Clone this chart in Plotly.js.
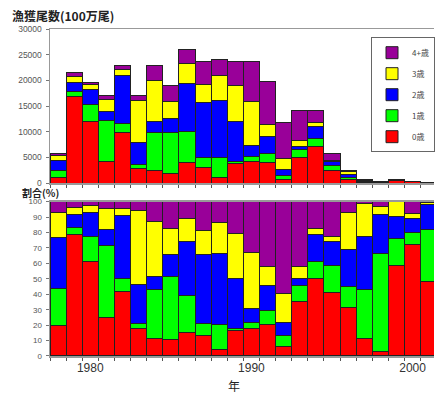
<!DOCTYPE html>
<html><head><meta charset="utf-8">
<script src="https://cdn.plot.ly/plotly-3.0.1.min.js"></script>
<style>html,body{margin:0;padding:0;background:#fff;}#chart{width:435px;height:397px;}</style>
</head><body><div id="chart"></div>
<script>
// years
const years = [1978,1979,1980,1981,1982,1983,1984,1985,1986,1987,1988,1989,1990,1991,1992,1993,1994,1995,1996,1997,1998,1999,2000,2001];
const ageNames = ['0歳','1歳','2歳','3歳','4+歳'];
const xTickLabels = [1980,1990,2000];

// catch in numbers (100万尾), by age
const catchAge0 = [1100,16950,11950,4150,9750,2900,2500,1850,3970,3120,1050,3750,4200,3970,720,4880,7150,2350,750,85,11,440,217,48];
const catchAge1 = [1350,950,3260,7950,1850,700,7400,8000,6100,1850,3850,450,1000,1810,750,1570,1510,980,330,225,220,130,23,33];
const catchAge2 = [1900,1720,3000,1900,9300,4300,2000,2700,9250,10650,11200,7750,2050,3250,1100,620,2440,910,590,250,90,105,26,16];
const catchAge3 = [920,1050,900,2300,1200,8200,8100,3300,4000,3550,4800,6950,8700,2420,2220,1120,600,160,570,155,18,73,11,1.3];
const catchAge4 = [470,800,480,800,850,1000,2950,3200,2780,4450,3200,4750,7700,8400,7030,5880,2380,1300,160,7,11,2,23,0.4];

// share (%), by age
const shareAge0 = [20,79,61,24.8,42.1,17.5,11.5,10.4,15.3,13.2,4.5,16.4,17.9,20.1,6,35.2,50.3,41.3,31.3,11.5,3.2,58.5,72.4,48.2];
const shareAge1 = [24,4.3,16.7,46.5,8.2,3.7,31.9,41,23.6,8,15.6,1.5,3.7,9.1,7,10.8,10.8,17.2,13.6,31.3,63.3,17.8,7.8,33.5];
const shareAge2 = [33,8.2,15.1,10.4,40.6,25.2,8.4,14.1,35.2,44.7,46.4,32.4,8.9,16.4,8.8,4.3,17.3,16,24.4,34.5,25.3,13.8,8.6,16.4];
const shareAge3 = [16,4.7,5,13.6,4.4,47.6,35.2,17.2,14.7,15.1,20.1,29.2,36.7,12.3,18.4,8,4.3,2.8,23.8,21.7,5,9.7,3.7,1.3];
const shareAge4 = [7,3.8,2.2,4.7,4.7,6,13,17.3,11.2,19,13.4,20.5,32.8,42.1,59.8,41.7,17.3,22.7,6.9,1,3.2,0.2,7.5,0.6];

const colors = ['#ff0000','#00ff00','#0000ff','#ffff00','#990099'];
const catchSeries = [catchAge0,catchAge1,catchAge2,catchAge3,catchAge4];
const shareSeries = [shareAge0,shareAge1,shareAge2,shareAge3,shareAge4];

const traces = [];
for (let i=0;i<5;i++){
  traces.push({type:'bar',x:years,y:catchSeries[i],name:ageNames[i],legendgroup:'g'+i,legendrank:5-i,
    marker:{color:colors[i],line:{color:'#222',width:1}},xaxis:'x',yaxis:'y',hoverinfo:'x+y+name'});
}
for (let i=0;i<5;i++){
  traces.push({type:'bar',x:years,y:shareSeries[i],name:ageNames[i],legendgroup:'g'+i,legendrank:5-i,showlegend:false,
    marker:{color:colors[i],line:{color:'#222',width:1}},xaxis:'x2',yaxis:'y2',hoverinfo:'x+y+name'});
}

const fontCJK = '"Noto Sans CJK JP", "Noto Sans", sans-serif';
const xBase = {
  range:[1977.5,2001.33], showgrid:false, zeroline:false,
  showline:true, linecolor:'#999', linewidth:1.5, mirror:true,
  ticks:'', fixedrange:true,
  minor:{ticks:'outside',ticklen:3,tick0:1977.5,dtick:1,tickcolor:'#555',tickwidth:1,showgrid:false}
};
const yBase = {
  showgrid:false, zeroline:false, showline:true, linecolor:'#999', linewidth:1.5,
  ticks:'outside', ticklen:3, tickcolor:'#777', tickformat:'d', ticklabelstandoff:2
};

const layout = {
  width:435, height:397,
  margin:{l:50,r:0,t:29,b:41},
  paper_bgcolor:'#fff', plot_bgcolor:'#fff',
  barmode:'stack', bargap:0,
  font:{family:fontCJK,color:'#333'},
  xaxis:Object.assign({},xBase,{anchor:'y',showticklabels:false}),
  xaxis2:Object.assign({},xBase,{anchor:'y2',tickvals:xTickLabels,ticktext:xTickLabels.map(String),
    tickfont:{family:'Arial, "Liberation Sans", sans-serif',size:12,color:'#333'}}),
  yaxis:Object.assign({},yBase,{domain:[0.529,1],range:[0,30000],dtick:5000,anchor:'x',
    tickfont:{family:'Arial, "Liberation Sans", sans-serif',size:8.5,color:'#555'}}),
  yaxis2:Object.assign({},yBase,{domain:[0,0.472],range:[0,100],dtick:10,anchor:'x2',
    tickfont:{family:'Arial, "Liberation Sans", sans-serif',size:8,color:'#555'}}),
  legend:{x:0.836,y:0.975,xanchor:'left',yanchor:'top',traceorder:'grouped',tracegroupgap:2,
    bgcolor:'#fff',bordercolor:'#666',borderwidth:1,font:{family:fontCJK,size:8,color:'#444'}},
  annotations:[
    {text:'<b>漁獲尾数(100万尾)</b>',xref:'paper',yref:'paper',x:-0.104,y:1.041,xanchor:'left',yanchor:'middle',showarrow:false,font:{family:fontCJK,size:12,color:'#222'}},
    {text:'<b>割合(%)</b>',xref:'paper',yref:'paper',x:-0.075,y:0.4985,xanchor:'left',yanchor:'middle',showarrow:false,borderpad:0,font:{family:fontCJK,size:10,color:'#222'}},
    {text:'年',xref:'paper',yref:'paper',x:0.478,y:-0.0887,xanchor:'center',yanchor:'middle',showarrow:false,font:{family:fontCJK,size:12,color:'#222'}}
  ]
};
Plotly.newPlot('chart',traces,layout,{displayModeBar:false,staticPlot:true});
</script></body></html>
